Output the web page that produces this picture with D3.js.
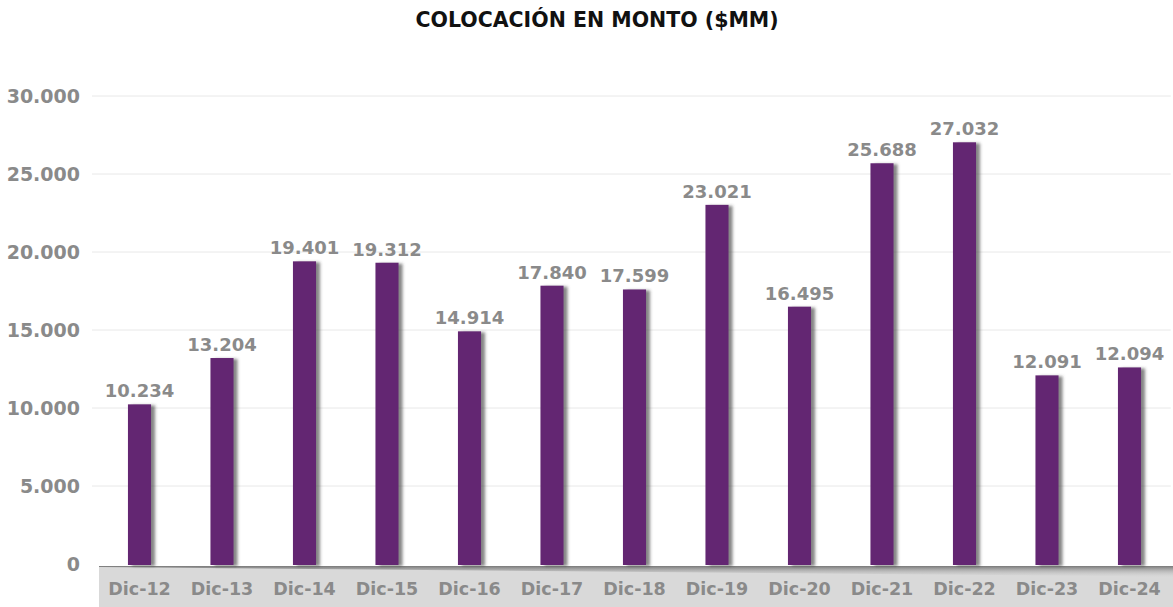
<!DOCTYPE html>
<html>
<head>
<meta charset="utf-8">
<script src="https://cdn.jsdelivr.net/npm/d3@7"></script>
<style>
  body { margin: 0; background: #fff; }
  text { font-family: "DejaVu Sans", sans-serif; font-weight: bold; }
</style>
</head>
<body>
<svg id="chart" width="1173" height="607"></svg>
<script>
// categories and values
const periodos = ['Dic-12', 'Dic-13', 'Dic-14', 'Dic-15', 'Dic-16', 'Dic-17', 'Dic-18',
                  'Dic-19', 'Dic-20', 'Dic-21', 'Dic-22', 'Dic-23', 'Dic-24'];
// bar heights as drawn
const montos = [10234, 13204, 19401, 19312, 14914, 17840, 17599, 23021, 16495, 25688, 27032, 12091, 12600];
// data labels as printed
const etiquetas = ['10.234', '13.204', '19.401', '19.312', '14.914', '17.840', '17.599',
                   '23.021', '16.495', '25.688', '27.032', '12.091', '12.094'];
const yTicks = [0, 5000, 10000, 15000, 20000, 25000, 30000];

const W = 1173, H = 607;
const plotLeft = 98.25, plotRight = 1170.75, plotTop = 96, plotBottom = 564;
const gris = '#8a8a8a';

const svg = d3.select('#chart');
const defs = svg.append('defs');

const shadow = defs.append('filter').attr('id', 'sombra')
    .attr('x', '-20%').attr('y', '-5%').attr('width', '160%').attr('height', '110%');
shadow.append('feDropShadow')
    .attr('dx', 4).attr('dy', 1).attr('stdDeviation', 1.8)
    .attr('flood-color', '#444').attr('flood-opacity', 0.65);

const floorGrad = defs.append('linearGradient').attr('id', 'piso')
    .attr('x1', 0).attr('y1', 0).attr('x2', 0).attr('y2', 1);
floorGrad.append('stop').attr('offset', '0%').attr('stop-color', '#6e6e6e').attr('stop-opacity', 0.9);
floorGrad.append('stop').attr('offset', '100%').attr('stop-color', '#d9d9d9').attr('stop-opacity', 0);

const x = d3.scaleBand()
    .domain(periodos)
    .range([plotLeft, plotRight])
    .paddingInner(0.72)
    .paddingOuter(0.36);

const y = d3.scaleLinear()
    .domain([0, 30000])
    .range([plotBottom, plotTop]);

// title
svg.append('text')
  .attr('x', 597)
  .attr('y', 27)
  .attr('text-anchor', 'middle')
  .style('font-size', '20.5px')
  .style('fill', '#111')
  .text('COLOCACIÓN EN MONTO ($MM)');

// gridlines
svg.append('g')
  .attr('class', 'grid')
  .selectAll('line')
  .data(yTicks.filter(d => d > 0))
  .enter().append('line')
  .attr('x1', 92).attr('x2', plotRight)
  .attr('y1', d => y(d)).attr('y2', d => y(d))
  .style('stroke', '#e8e8e8')
  .style('stroke-width', 1);

// y axis
const yAxis = d3.axisLeft(y)
    .tickValues(yTicks)
    .tickSize(0)
    .tickPadding(12)
    .tickFormat(d => d3.format(',')(d).replace(/,/g, '.'));
const gy = svg.append('g')
  .attr('class', 'y axis')
  .attr('transform', 'translate(92,0)')
  .call(yAxis);
gy.select('.domain').remove();
gy.selectAll('text')
  .style('font-size', '19px')
  .style('fill', gris);

// floor band
svg.append('rect')
  .attr('x', 99).attr('y', plotBottom + 2)
  .attr('width', W - 99).attr('height', H - plotBottom - 2)
  .style('fill', '#d9d9d9');
svg.append('path')
  .attr('d', `M99,${plotBottom + 2} L${W},${plotBottom + 2} L${W},${plotBottom + 14} L${plotRight - 60},${plotBottom + 12} L99,${plotBottom + 3} Z`)
  .style('fill', 'url(#piso)');

// bars
svg.append('g')
  .attr('class', 'bars')
  .selectAll('rect')
  .data(montos)
  .enter().append('rect')
  .attr('x', (d, i) => x(periodos[i]))
  .attr('width', x.bandwidth())
  .attr('y', d => y(d))
  .attr('height', d => plotBottom + 1 - y(d))
  .attr('filter', 'url(#sombra)')
  .style('fill', '#642572');

// data labels
svg.append('g')
  .attr('class', 'labels')
  .selectAll('text')
  .data(montos)
  .enter().append('text')
  .attr('x', (d, i) => x(periodos[i]) + x.bandwidth() / 2)
  .attr('y', d => y(d) - 7)
  .attr('text-anchor', 'middle')
  .style('font-size', '18px')
  .style('fill', gris)
  .text((d, i) => etiquetas[i]);

// x axis
const xAxis = d3.axisBottom(x).tickSize(0).tickPadding(0);
const gx = svg.append('g')
  .attr('class', 'x axis')
  .attr('transform', `translate(0,${plotBottom})`)
  .call(xAxis);
gx.select('.domain').remove();
gx.selectAll('text')
  .attr('y', 31)
  .attr('dy', 0)
  .style('font-size', '17.5px')
  .style('fill', gris);
</script>
</body>
</html>
